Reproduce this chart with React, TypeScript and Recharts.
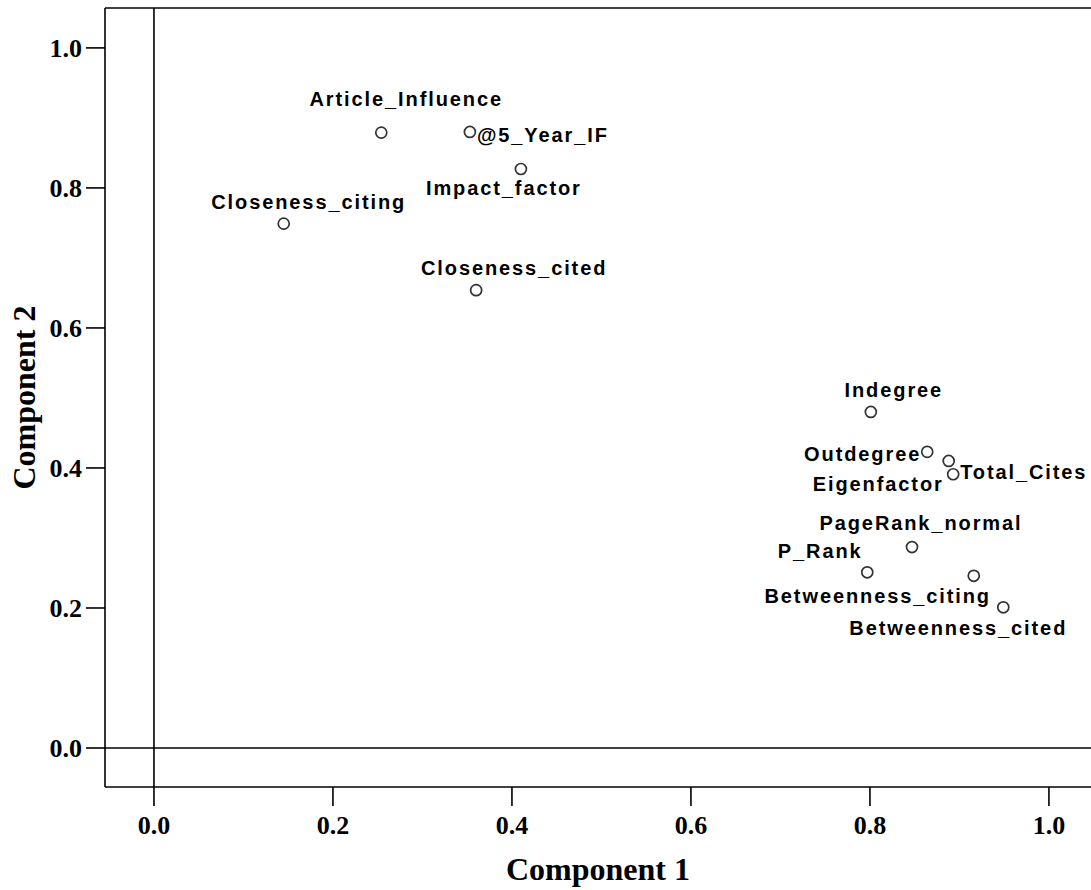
import { ReferenceLine, Scatter, ScatterChart, XAxis, YAxis } from 'recharts';

const names = [
  'Article_Influence',
  '@5_Year_IF',
  'Impact_factor',
  'Closeness_citing',
  'Closeness_cited',
  'Indegree',
  'Outdegree',
  'Eigenfactor',
  'Total_Cites',
  'PageRank_normal',
  'P_Rank',
  'Betweenness_citing',
  'Betweenness_cited',
];
const component1 = [0.254, 0.353, 0.41, 0.145, 0.36, 0.801, 0.864, 0.888, 0.893, 0.847, 0.797, 0.916, 0.949];
const component2 = [0.879, 0.88, 0.827, 0.749, 0.654, 0.48, 0.423, 0.41, 0.391, 0.287, 0.251, 0.246, 0.201];
const xTicks = [0, 0.2, 0.4, 0.6, 0.8, 1.0];
const yTicks = [0, 0.2, 0.4, 0.6, 0.8, 1.0];

const X_DOMAIN: [number, number] = [-0.0547, 1.047];
const Y_DOMAIN: [number, number] = [-0.0557, 1.057];

// label placement next to each marker (pixels, relative to the point)
const labelPlacement: Record<string, { dx: number; dy: number; anchor: 'start' | 'middle' | 'end' }> = {
  Article_Influence: { dx: 25, dy: -34, anchor: 'middle' },
  '@5_Year_IF': { dx: 7, dy: 3, anchor: 'start' },
  Impact_factor: { dx: -17, dy: 19, anchor: 'middle' },
  Closeness_citing: { dx: 25, dy: -22, anchor: 'middle' },
  Closeness_cited: { dx: 38, dy: -22, anchor: 'middle' },
  Indegree: { dx: 23, dy: -22, anchor: 'middle' },
  Outdegree: { dx: -6, dy: 2, anchor: 'end' },
  Eigenfactor: { dx: -5, dy: 23, anchor: 'end' },
  Total_Cites: { dx: 7, dy: -2, anchor: 'start' },
  PageRank_normal: { dx: 9, dy: -24, anchor: 'middle' },
  P_Rank: { dx: -47, dy: -21, anchor: 'middle' },
  Betweenness_citing: { dx: -96, dy: 20, anchor: 'middle' },
  Betweenness_cited: { dx: -45, dy: 21, anchor: 'middle' },
};

const points = names.map((name, i) => ({ name, x: component1[i], y: component2[i] }));

const serif = '"Liberation Serif", "Times New Roman", serif';
const sans = '"Liberation Sans", Arial, sans-serif';

const tickStyle = { fontFamily: serif, fontSize: 26, fontWeight: 700, fill: '#000' };

function PointMark(props: any) {
  const { cx, cy, payload } = props;
  const place = labelPlacement[payload.name] ?? { dx: 8, dy: 0, anchor: 'start' };
  return (
    <g>
      <circle cx={cx} cy={cy} r={5.5} fill="#fff" stroke="#333" strokeWidth={1.7} />
      <text
        x={cx + place.dx}
        y={cy + place.dy + 7}
        textAnchor={place.anchor}
        fontFamily={sans}
        fontSize={20}
        fontWeight={700}
        letterSpacing={1.9}
        fill="#000"
      >
        {payload.name}
      </text>
    </g>
  );
}

export default function App() {
  return (
    <div style={{ position: 'absolute', left: 0, top: 0, width: 1091, height: 890, background: '#fff' }}>
      <ScatterChart width={1091} height={890} margin={{ top: 8, right: 0, bottom: 0, left: 0 }}>
        <XAxis
          type="number"
          dataKey="x"
          domain={X_DOMAIN}
          allowDataOverflow
          ticks={xTicks}
          tickFormatter={(v: number) => v.toFixed(1)}
          tickSize={19}
          tickMargin={10}
          height={103}
          axisLine={{ stroke: '#000', strokeWidth: 1.6 }}
          tickLine={{ stroke: '#000', strokeWidth: 1.6 }}
          tick={tickStyle}
          label={{
            content: ({ viewBox }: any) => (
              <text
                x={viewBox.x + viewBox.width / 2}
                y={880}
                textAnchor="middle"
                fontFamily={serif}
                fontSize={32}
                fontWeight={700}
                fill="#000"
              >
                Component 1
              </text>
            ),
          }}
        />
        <YAxis
          type="number"
          dataKey="y"
          domain={Y_DOMAIN}
          allowDataOverflow
          ticks={yTicks}
          tickFormatter={(v: number) => v.toFixed(1)}
          tickSize={19}
          tickMargin={4}
          width={105}
          axisLine={{ stroke: '#000', strokeWidth: 1.6 }}
          tickLine={{ stroke: '#000', strokeWidth: 1.6 }}
          tick={tickStyle}
          label={{
            content: ({ viewBox }: any) => {
              const cy = viewBox.y + viewBox.height / 2;
              return (
                <text
                  x={35}
                  y={cy}
                  transform={`rotate(-90, 35, ${cy})`}
                  textAnchor="middle"
                  fontFamily={serif}
                  fontSize={32}
                  fontWeight={700}
                  fill="#000"
                >
                  Component 2
                </text>
              );
            },
          }}
        />
        <ReferenceLine y={Y_DOMAIN[1]} stroke="#000" strokeWidth={1.6} />
        <ReferenceLine x={0} stroke="#000" strokeWidth={1.6} />
        <ReferenceLine y={0} stroke="#000" strokeWidth={1.6} />
        <Scatter data={points} shape={<PointMark />} isAnimationActive={false} />
      </ScatterChart>
    </div>
  );
}
